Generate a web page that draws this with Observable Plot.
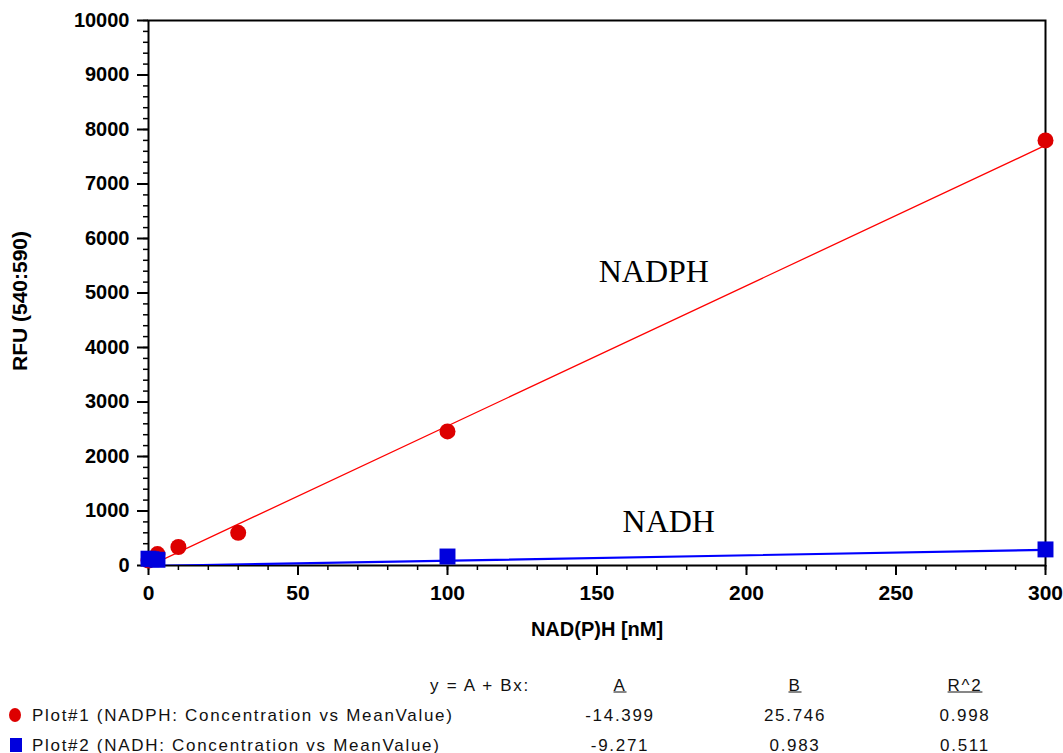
<!DOCTYPE html>
<html><head><meta charset="utf-8">
<script src="https://cdn.jsdelivr.net/npm/d3@7"></script>
<script src="https://cdn.jsdelivr.net/npm/@observablehq/plot@0.6"></script>
<style>
body{margin:0;background:#fff;}
#wrap{position:relative;width:1063px;height:753px;overflow:hidden;background:#fff;}
.lg{position:absolute;font-family:"Liberation Sans",Arial,sans-serif;font-size:17px;letter-spacing:1.7px;color:#111;white-space:nowrap;line-height:1;}
</style></head><body><div id="wrap"></div>
<script>
// NADPH data (concentration nM, mean RFU)
const nadphX = [0, 3, 10, 30, 100, 300];
const nadphY = [90, 210, 340, 600, 2460, 7800];
// NADH data
const nadhX = [0, 1, 3, 100, 300];
const nadhY = [125, 115, 105, 165, 295];
// fit results y = A + Bx
const fitA = [-14.399, -9.271];
const fitB = [25.746, 0.983];
const fitR2 = ["0.998", "0.511"];
const fitAText = ["-14.399", "-9.271"];
const fitBText = ["25.746", "0.983"];
const seriesNames = ["Plot#1 (NADPH: Concentration vs MeanValue)", "Plot#2 (NADH: Concentration vs MeanValue)"];
const seriesColors = ["#dd0000", "#0000dd"];
const xTicks = [0, 50, 100, 150, 200, 250, 300];
const xMinor = d3.range(0, 301, 10);
const yTicks = [0, 1000, 2000, 3000, 4000, 5000, 6000, 7000, 8000, 9000, 10000];
const yMinor = d3.range(0, 10001, 200);
const annoX = [169, 174];
const annoY = [5390, 810];
const annoText = ["NADPH", "NADH"];

const nadph = nadphX.map((x, i) => ({x, y: nadphY[i]}));
const nadh = nadhX.map((x, i) => ({x, y: nadhY[i]}));
const fitLine = k => [0, 300].map(x => ({x, y: fitA[k] + fitB[k] * x}));
const annos = annoText.map((t, i) => ({x: annoX[i], y: annoY[i], t}));

const chart = Plot.plot({
  width: 1063, height: 650,
  marginLeft: 148, marginRight: 18, marginTop: 20, marginBottom: 85,
  style: {fontFamily: "'Liberation Sans', Arial, sans-serif", fontSize: "20px", fontWeight: "bold", background: "#fff", color: "#000"},
  x: {domain: [0, 300]},
  y: {domain: [0, 10000]},
  marks: [
    Plot.axisX(xMinor, {tickSize: 5, tickFormat: () => "", label: null, strokeWidth: 1.5}),
    Plot.axisY(yMinor, {tickSize: 5, tickFormat: () => "", label: null, strokeWidth: 1.5}),
    Plot.axisX(xTicks, {tickSize: 10, tickPadding: 10, label: null, strokeWidth: 2, tickFormat: d => String(d), fontWeight: "bold", fontSize: 21}),
    Plot.axisY(yTicks, {tickSize: 11, tickPadding: 8, label: null, strokeWidth: 2, tickFormat: d => String(d), fontWeight: "bold", fontSize: 20}),
    Plot.frame({stroke: "#000", strokeWidth: 2}),
    Plot.line(fitLine(0), {x: "x", y: "y", stroke: "#ff0000", strokeWidth: 1.3, clip: true}),
    Plot.line(fitLine(1), {x: "x", y: "y", stroke: "#0000ff", strokeWidth: 2.2, clip: true}),
    Plot.dot(nadph, {x: "x", y: "y", r: 8, fill: seriesColors[0]}),
    Plot.dot(nadh, {x: "x", y: "y", r: 9, symbol: "square", fill: seriesColors[1]}),
    Plot.text(annos, {x: "x", y: "y", text: "t", fontFamily: "'Liberation Serif', 'Times New Roman', serif", fontWeight: "normal", fontSize: 32, fill: "#000"}),
    Plot.text(["RFU (540:590)"], {frameAnchor: "left", textAnchor: "middle", dx: -128, dy: 8, rotate: -90, text: d => d, fontSize: 21, fontWeight: "bold"}),
    Plot.text(["NAD(P)H [nM]"], {frameAnchor: "bottom", textAnchor: "middle", dy: 70, text: d => d, fontSize: 20, fontWeight: "bold"})
  ]
});
const wrap = document.getElementById("wrap");
wrap.appendChild(chart);

function addDiv(html, left, top, anchor, extra) {
  const d = document.createElement("div");
  d.className = "lg";
  d.innerHTML = html;
  d.style.left = left + "px";
  d.style.top = top + "px";
  const tx = anchor === "end" ? "-100%" : anchor === "middle" ? "-50%" : "0";
  d.style.transform = `translate(${tx},-50%)`;
  if (extra) Object.assign(d.style, extra);
  wrap.appendChild(d);
  return d;
}
const colA = 620, colB = 795, colR = 965;
const rowHead = 685, rows = [715, 745];
addDiv("y = A + Bx:", 530, rowHead, "end");
addDiv("A", colA, rowHead, "middle", {textDecoration: "underline"});
addDiv("B", colB, rowHead, "middle", {textDecoration: "underline"});
addDiv("R^2", colR, rowHead, "middle", {textDecoration: "underline"});
seriesNames.forEach((name, i) => {
  const y = rows[i];
  const m = document.createElement("div");
  m.style.position = "absolute";
  m.style.background = seriesColors[i];
  if (i === 0) {
    Object.assign(m.style, {left: "9px", top: (y - 7) + "px", width: "12px", height: "14px", borderRadius: "50%"});
  } else {
    Object.assign(m.style, {left: "10px", top: (y - 7) + "px", width: "12px", height: "14px"});
  }
  wrap.appendChild(m);
  addDiv(name, 32, y, "start");
  addDiv(fitAText[i], colA, y, "middle");
  addDiv(fitBText[i], colB, y, "middle");
  addDiv(fitR2[i], colR, y, "middle");
});
</script>
</body></html>
